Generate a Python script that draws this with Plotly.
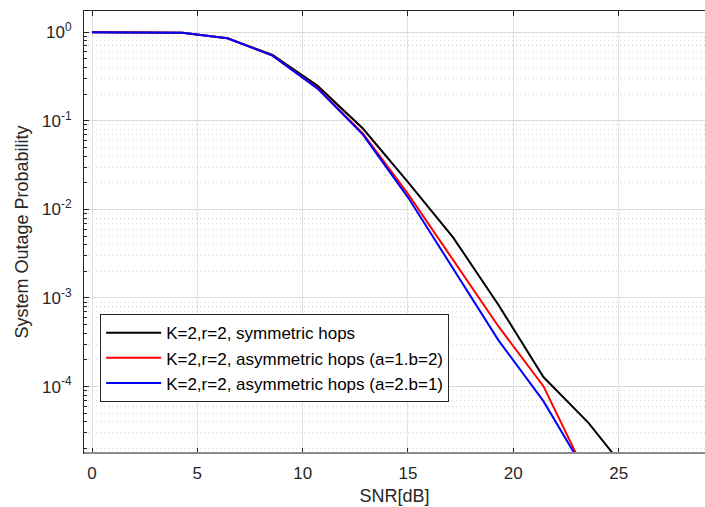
import plotly.graph_objects as go

# SNR grid (dB) and outage probabilities
snr = [0, 2.14, 4.29, 6.43, 8.57, 10.71, 12.86, 15.0, 17.14, 19.29, 21.43, 23.57, 25.71, 27.86, 30.0]

sym_hops = [1.0, 0.999, 0.99, 0.858, 0.555, 0.248, 0.0818, 0.0203, 0.00484,
            8.4e-4, 1.28e-4, 3.9e-5, 8.9e-6, 1.5e-6, 2e-7]
asym_a1b2 = [1.0, 0.999, 0.99, 0.855, 0.545, 0.234, 0.072, 0.0150, 0.0027,
             4.8e-4, 1.01e-4, 9e-6, 6e-7, 4e-8, 2e-9]
asym_a2b1 = [1.0, 0.999, 0.99, 0.855, 0.545, 0.231, 0.070, 0.0137, 0.00215,
             3.35e-4, 6.85e-5, 9.5e-6, 1e-6, 8e-8, 5e-9]

names = ['K=2,r=2, symmetric hops',
         'K=2,r=2, asymmetric hops (a=1.b=2)',
         'K=2,r=2, asymmetric hops (a=2.b=1)']
colors = ['#000000', '#ff0000', '#0000ff']

y_tickvals = [1e-4, 1e-3, 1e-2, 1e-1, 1]
y_ticktext = ['10<sup>-4</sup>', '10<sup>-3</sup>', '10<sup>-2</sup>', '10<sup>-1</sup>', '10<sup>0</sup>']
x_tickvals = [0, 5, 10, 15, 20, 25]

FONT = 'Liberation Sans, Arial, sans-serif'
AX = '#262626'

fig = go.Figure()
for ys, name, c in zip([sym_hops, asym_a1b2, asym_a2b1], names, colors):
    fig.add_trace(go.Scatter(x=snr, y=ys, name=name, mode='lines',
                             line=dict(color=c, width=2)))

fig.update_layout(
    width=705, height=507,
    paper_bgcolor='white', plot_bgcolor='white',
    font=dict(family=FONT, color=AX, size=16),
    margin=dict(l=84, r=0, t=11, b=54),
    showlegend=True,
    legend=dict(x=0.026, y=0.314, xanchor='left', yanchor='top',
                bgcolor='white', bordercolor=AX, borderwidth=1,
                itemwidth=55,
                font=dict(size=17, color='#000000'), tracegroupgap=0),
    xaxis=dict(
        range=[-0.38, 29.1], tickvals=x_tickvals,
        ticks='inside', ticklen=5, tickcolor=AX,
        showgrid=True, gridcolor='#e3e3e3', gridwidth=1,
        showline=True, linecolor=AX, linewidth=1, mirror='ticks',
        zeroline=False, ticklabelstandoff=5,
        title=dict(text='SNR[dB]', font=dict(size=18), standoff=6),
        tickfont=dict(size=17),
    ),
    yaxis=dict(
        type='log', range=[-4.75, 0.24],
        tickvals=y_tickvals, ticktext=y_ticktext,
        ticks='inside', ticklen=5, tickcolor=AX,
        showgrid=True, gridcolor='#dcdcdc', gridwidth=1,
        showline=True, linecolor=AX, linewidth=1, mirror=True,
        zeroline=False, ticklabelstandoff=8,
        minor=dict(dtick='D1', ticks='inside', ticklen=3, tickcolor=AX,
                   showgrid=True, gridcolor='#d4d4d4', griddash='1px,3px'),
        title=dict(text='System Outage Probability', font=dict(size=18), standoff=8),
        tickfont=dict(size=17),
    ),
)

# gray bottom axis line as in the reference
fig.add_shape(type='line', xref='paper', yref='paper', x0=0, x1=1, y0=0, y1=0,
              line=dict(color='#8c8c8c', width=2), layer='above')

fig.write_html("out.html", config={'displayModeBar': False},
               post_script="document.body.style.margin='0px';")
